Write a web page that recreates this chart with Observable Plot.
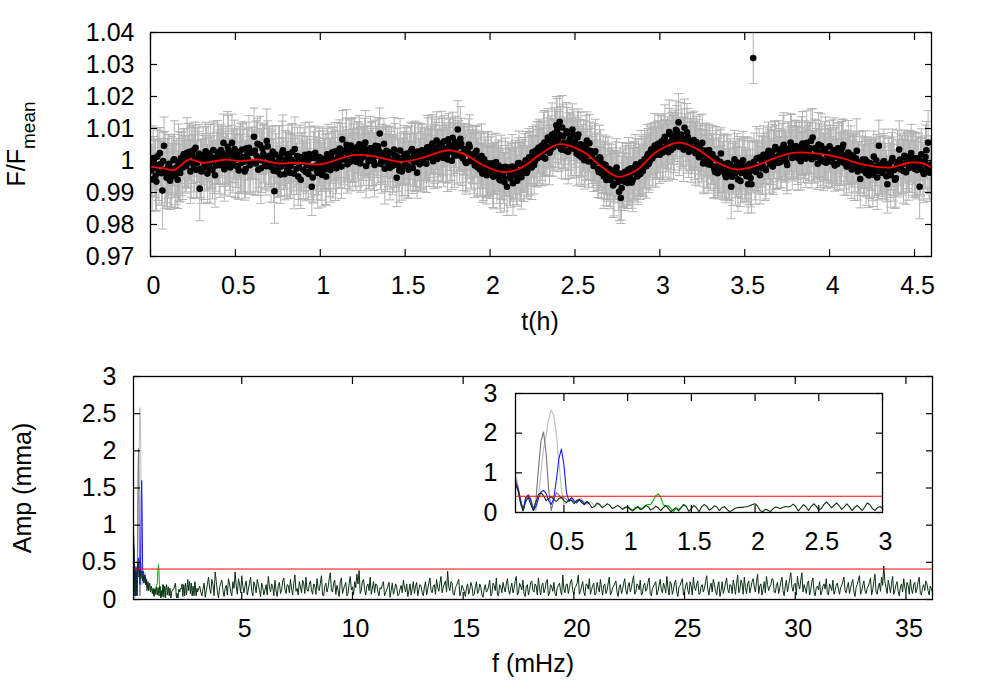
<!DOCTYPE html>
<html><head><meta charset="utf-8">
<script src="https://cdn.jsdelivr.net/npm/d3@7"></script>
<script src="https://cdn.jsdelivr.net/npm/@observablehq/plot@0.6"></script>
<style>
body{margin:0;background:#fff;}
#chart{position:relative;width:981px;height:687px;overflow:hidden;background:#fff;font-family:"Liberation Sans",Arial,Helvetica,sans-serif;}
#chart svg{position:absolute;overflow:visible;}
</style></head><body><div id="chart"></div>
<script>
// ---------- Light curve (top panel) ----------
const cadenceH = 0.01;           // hours between samples of each set
const offsetB = 0.005;           // second (interleaved) set starts half a step later
const fluxPpt = [
-2.0,-5.9,-0.5,-4.8,1.2,-3.6,-1.1,-9.4,4.6,-3.2,
-4.1,-1.0,-5.2,-2.6,0.4,-3.8,-6.0,-1.9,0.8,-2.2,
0.9,-1.8,1.5,2.7,-0.6,3.1,0.2,-2.9,1.1,-8.8,
-3.4,1.6,-1.2,0.5,2.3,-2.5,-0.3,3.3,-4.6,0.9,
1.8,-1.5,2.6,5.5,-0.8,0.4,3.0,-2.2,5.5,1.2,
-1.6,2.1,-3.1,0.7,3.4,-0.4,-2.7,1.9,4.0,-1.1,
2.4,7.4,-0.9,5.2,0.6,-2.4,3.7,1.3,-1.8,4.4,
1.5,-2.0,2.8,-9.6,-0.7,-3.5,0.9,-1.9,3.2,-4.3,
-1.2,2.0,-3.8,0.3,-0.5,3.6,-2.6,-5.0,1.1,-0.4,
-2.9,1.8,-1.4,-4.2,0.6,-8.2,-2.0,2.4,-3.3,-0.8,
-1.7,-4.5,0.2,-2.8,1.9,-0.6,-3.0,2.5,0.1,-1.5,
2.9,-0.8,1.6,6.6,0.4,3.3,-1.2,2.1,4.7,0.9,
3.5,-0.4,2.2,5.1,0.6,1.8,4.2,-1.7,2.9,0.3,
3.8,1.0,-1.4,2.7,4.4,8.4,-0.2,1.5,-2.6,3.0,
0.8,-2.3,2.4,-0.9,1.6,-5.4,-1.6,3.1,-3.4,0.5,
-1.0,2.2,-2.9,0.7,3.6,-0.5,1.3,-3.8,2.6,0.2,
3.2,-0.6,1.8,4.1,0.9,2.7,5.3,1.2,3.9,0.5,
4.6,1.4,3.2,6.0,2.1,0.3,4.9,2.8,7.1,1.6,
3.9,9.7,2.0,5.2,0.6,3.4,-0.8,2.5,4.3,-0.2,
1.7,-1.6,3.0,0.2,-2.8,1.4,-3.5,-0.7,-4.6,-1.1,
-3.9,-0.9,-5.1,-2.3,-4.4,-1.6,-6.2,-3.0,-5.5,-2.0,
-8.2,-3.2,-5.6,-1.9,-4.1,-2.7,-6.3,-0.8,-3.6,-1.5,
-2.8,0.1,-3.3,1.0,-0.8,2.6,-1.4,3.1,0.7,2.9,
4.4,1.1,5.6,3.0,7.2,2.4,5.9,4.1,8.5,11.0,
6.3,12.1,3.4,7.6,5.0,9.1,2.7,6.8,4.2,8.0,
5.9,2.1,8.1,3.8,0.9,4.6,2.4,6.2,-0.3,3.0,
1.8,-1.7,2.9,-0.4,-3.6,0.6,-2.3,-5.0,-1.4,-4.2,
-2.6,-6.1,-4.0,-7.3,-3.2,-5.3,-9.8,-11.7,-4.4,-6.6,
-3.7,-7.0,-5.1,-2.4,-6.0,-3.6,-1.2,-4.8,-2.9,-0.6,
-3.3,0.4,-1.8,2.0,-0.2,3.5,1.3,4.7,2.2,5.2,
1.8,5.9,3.1,7.4,4.5,2.6,8.3,6.1,4.0,7.7,
9.2,11.9,5.0,7.1,3.4,6.6,8.8,2.7,5.8,3.9,
6.4,2.3,4.9,1.0,3.6,5.5,-0.4,2.8,0.3,3.3,
-1.3,1.9,-2.6,0.6,-4.0,-0.9,2.2,-3.1,-1.7,-5.2,
-0.8,-4.5,-8.2,-2.1,0.4,-3.6,-5.9,-1.5,-3.9,0.1,
-2.7,-4.9,-7.4,-1.0,-7.4,32.0,-3.3,0.6,-2.2,-4.6,
-0.3,1.8,-2.5,0.9,3.0,-1.2,2.3,-0.6,4.2,0.1,
3.4,-0.5,2.6,4.9,1.2,-1.4,3.7,5.6,0.8,2.9,
4.5,1.5,3.9,-0.2,5.3,2.2,0.6,4.0,2.8,6.1,
7.2,0.9,3.5,-1.0,2.4,4.6,0.2,3.1,-0.7,2.0,
4.4,0.5,2.7,-1.6,1.9,3.8,-0.3,2.2,4.9,0.1,
-1.9,2.5,0.4,-2.8,1.2,-0.8,3.0,-2.2,-5.8,-0.4,
-3.1,0.3,-2.4,-4.7,-0.9,-3.6,1.2,-2.0,-5.3,4.6,
-1.4,-3.9,-0.2,-2.7,-7.4,-1.1,-4.6,0.8,-3.0,-5.6,
-0.5,3.4,-2.8,-1.2,1.5,-3.7,0.2,-2.0,2.3,-0.9,
-2.6,0.7,-1.6,-8.2,1.9,-3.4,-0.3,3.2,5.6,-3.8
];
const errPpt = [
9,10,8,11,9,10,8,12,9,10, 11,9,10,8,12,10,9,11,8,10, 9,8,10,9,11,8,10,9,8,10, 10,9,8,10,9,11,8,9,10,8,
9,10,8,9,10,8,11,9,9,8, 10,8,9,11,8,10,9,8,10,9, 8,9,10,8,9,11,8,10,9,8, 9,11,8,10,9,8,10,9,11,8,
10,9,8,11,9,10,8,9,10,9, 9,10,9,8,10,9,11,8,9,10, 8,10,9,11,8,9,10,8,9,11, 9,8,10,9,8,10,9,11,8,9,
10,9,8,9,10,8,9,10,8,9, 8,9,10,8,9,8,10,9,11,8, 9,10,8,9,10,9,8,10,9,8, 10,8,9,10,8,9,11,8,9,10,
8,9,8,10,9,8,9,10,8,9, 9,8,10,8,9,10,8,9,8,10, 8,9,9,8,10,8,9,8,10,9, 9,10,8,9,8,10,9,8,9,10,
8,9,10,8,9,8,10,9,8,9, 9,8,9,10,8,9,8,10,9,8, 10,9,8,9,10,8,9,8,9,10, 8,9,10,8,9,10,8,9,8,9,
9,8,9,10,8,9,10,8,9,8, 8,10,8,9,9,8,10,9,8,9, 9,8,10,9,8,9,8,10,9,8, 8,9,8,10,9,8,9,8,10,9,
9,8,9,8,10,9,8,9,8,10, 8,9,10,8,9,8,9,10,8,9, 9,8,9,10,8,9,8,9,10,8, 8,9,8,9,10,8,9,8,9,8,
9,10,8,9,8,9,10,8,9,8, 8,9,9,10,8,9,8,9,10,8, 9,8,10,8,9,8,10,9,8,9, 10,8,9,8,9,8,9,10,8,9,
8,9,10,8,9,8,9,10,8,9, 9,8,9,10,8,9,8,9,10,8, 8,9,8,9,10,8,9,8,9,10, 9,8,9,8,9,10,8,9,8,9,
8,9,10,8,9,8,9,10,8,9, 9,10,8,9,8,9,10,8,9,8, 8,9,9,10,8,9,8,9,10,8, 9,8,10,8,9,8,10,9,8,9,
10,9,8,9,8,10,9,8,9,10, 9,8,9,10,8,9,8,9,10,9
];
const fluxPptB = [
-3.1,0.8,-2.4,-6.6,-1.5,2.3,-4.0,-0.2,-2.9,-5.4,
-1.8,-6.3,-3.5,0.1,-4.7,-2.1,-0.6,-3.9,-1.0,1.9,
-1.2,2.4,-0.3,-3.4,1.8,-1.9,4.0,-0.8,2.2,-2.6,
0.4,-2.2,2.9,-4.1,-0.9,1.3,-3.0,0.7,-1.6,2.5,
-0.4,3.3,0.9,-2.7,1.7,4.3,-1.3,2.0,-0.1,3.6,
0.6,-2.0,2.7,-0.8,1.1,-3.4,3.8,0.2,-1.5,2.4,
-0.7,3.1,1.4,-2.9,4.8,0.0,2.0,-1.2,6.1,0.9,
-1.5,0.6,-3.2,1.9,-2.5,-0.2,-4.4,2.3,-1.1,0.4,
-3.0,0.9,-1.8,2.6,-4.1,-0.3,1.4,-2.2,-6.0,0.7,
0.2,-3.6,-0.5,2.0,-2.4,-5.3,0.8,-1.6,-3.9,1.1,
-3.4,0.5,-1.1,-5.0,1.3,-2.2,0.9,-0.7,2.8,-2.4,
1.0,3.7,-1.9,2.5,0.2,4.9,1.6,-0.5,3.1,2.4,
0.8,4.1,2.0,-0.9,3.4,1.2,5.6,2.6,-0.2,3.8,
2.2,-0.4,4.6,1.5,3.0,-1.1,2.3,5.2,0.3,-0.8,
2.6,0.1,-1.7,3.4,-0.3,1.1,-3.1,0.6,-2.0,1.9,
1.3,-1.7,0.4,3.0,-2.3,1.9,-0.4,2.8,-1.2,1.5,
0.1,2.4,-1.0,3.3,1.6,4.6,-0.2,2.9,6.2,1.8,
2.9,5.4,0.8,3.7,1.9,6.6,3.3,-0.1,4.2,5.8,
1.6,4.5,6.8,1.2,3.6,-0.5,2.2,5.0,0.4,1.9,
-0.4,2.6,-2.1,0.9,-1.2,-4.1,0.4,-2.6,-0.9,-3.4,
-1.6,-4.7,-2.6,-0.5,-3.8,-5.9,-2.1,-4.3,-6.8,-3.3,
-2.2,-5.0,-3.7,-7.1,-2.4,-4.8,-0.9,-3.3,-5.2,-2.0,
-0.6,-3.9,-1.7,0.8,-2.2,1.6,-0.1,2.2,4.0,1.2,
2.8,5.1,0.6,4.3,6.4,3.2,8.0,4.8,6.9,9.4,
4.5,7.9,10.3,5.6,3.1,8.6,6.0,4.4,9.7,3.6,
4.3,7.2,1.6,5.1,3.2,0.1,4.0,1.7,5.4,2.1,
-0.5,2.5,0.2,-2.6,1.0,-3.9,-1.0,-3.0,-6.1,-2.7,
-5.4,-3.1,-7.8,-4.9,-2.2,-6.7,-4.1,-8.6,-5.7,-3.5,
-5.8,-2.8,-4.3,-6.9,-3.1,-1.9,-5.0,-2.3,-4.2,-1.4,
-2.1,-0.6,1.2,-1.0,2.7,0.6,3.9,1.7,3.3,4.4,
4.2,2.4,6.6,3.8,5.6,8.9,3.3,6.9,5.2,9.6,
6.8,4.3,8.1,5.6,10.2,4.1,7.3,5.1,3.2,6.0,
3.0,5.8,2.0,4.3,1.5,-0.9,3.1,1.7,-1.2,2.2,
0.5,-1.8,-3.6,0.3,-2.0,-0.4,-3.4,-1.1,-4.4,-2.3,
-3.0,-1.2,-5.1,-2.7,-4.0,-0.6,-2.3,-6.4,-3.2,-1.8,
-4.0,-1.6,-3.8,-5.5,-2.1,-0.4,-3.6,-1.8,0.9,-2.5,
-1.6,0.4,-3.0,2.2,-0.4,1.5,-1.9,3.4,1.0,-0.8,
2.0,0.4,4.1,1.8,-0.4,3.1,2.5,4.4,1.6,3.6,
3.1,0.7,2.6,4.7,1.1,3.4,5.5,1.9,3.8,0.4,
1.3,3.9,2.0,5.0,0.6,2.7,-0.4,3.6,1.9,0.8,
2.0,-0.5,3.3,1.2,-1.1,2.6,0.6,3.9,-0.8,1.5,
0.9,-1.1,1.8,-0.3,-2.5,0.6,-3.4,-1.0,-2.1,0.3,
-1.9,-4.0,-0.6,-2.9,-1.4,-4.4,-2.6,0.1,-3.3,-1.6,
-3.2,-0.6,-2.3,-4.9,-1.7,-3.5,-0.3,-2.7,-6.0,-1.9,
-2.4,0.3,-1.3,-3.3,0.9,-0.6,-2.4,1.4,-1.0,0.6,
-1.2,-3.0,0.4,-2.1,-0.7,-4.2,1.1,-1.8,-3.0,-1.3
];
const errPptB = [
8,10,9,9,11,8,10,9,12,9, 10,9,11,8,10,9,12,9,10,8, 9,11,8,10,9,10,8,11,9,9, 8,10,9,9,8,10,9,11,8,10,
10,8,9,10,9,11,8,9,10,9, 9,10,8,9,11,9,8,10,9,8, 10,9,11,8,9,10,9,8,10,9, 8,9,10,9,8,11,9,10,8,9,
9,8,10,9,11,8,9,10,9,8, 10,9,8,10,9,8,10,9,11,9, 9,10,8,9,10,9,8,11,9,8, 8,9,10,8,9,11,8,9,10,9,
9,8,10,9,8,9,10,8,9,10, 10,9,8,9,10,8,9,8,10,9, 8,9,9,10,8,9,10,8,9,9, 9,10,8,9,8,10,9,9,8,10,
9,8,9,10,8,9,8,10,9,8, 8,10,9,8,9,8,10,9,9,8, 9,8,10,9,8,10,9,8,9,9, 10,8,9,8,10,9,8,9,10,8,
9,10,8,9,8,9,10,8,9,8, 8,9,9,10,8,9,8,9,10,8, 9,8,9,8,10,9,8,10,8,9, 9,10,8,9,9,8,10,8,9,10,
8,9,10,8,9,8,9,10,8,9, 9,8,9,10,8,9,10,8,9,8, 8,9,8,9,10,8,9,9,8,10, 9,8,10,8,9,9,8,10,9,8,
8,10,9,8,9,10,8,9,8,9, 9,8,10,9,8,9,8,10,9,8, 10,9,8,9,8,10,9,8,9,9, 8,9,10,8,9,8,9,8,10,9,
9,8,9,10,8,9,8,10,9,8, 8,10,8,9,9,10,8,9,8,10, 9,8,9,8,10,9,9,8,10,8, 8,9,10,9,8,9,10,8,9,8,
9,8,9,8,10,9,8,9,10,8, 8,9,10,8,9,9,8,10,8,9, 9,10,8,9,8,9,10,9,8,9, 8,9,8,10,9,8,9,10,8,9,
9,8,10,9,8,9,8,9,10,8, 8,9,9,8,10,8,9,10,8,9, 9,10,8,9,8,10,9,8,9,9, 8,9,10,8,9,8,9,10,9,8,
9,8,9,10,8,9,10,8,9,8, 10,9,8,9,8,9,10,8,9,9
];
const fitT   = [0,0.07,0.136,0.18,0.225,0.31,0.38,0.45,0.53,0.635,0.744,0.86,1.0,1.1,1.195,1.31,1.47,1.607,1.70,1.764,1.86,1.96,2.078,2.176,2.29,2.41,2.55,2.647,2.755,2.863,2.98,3.108,3.216,3.33,3.45,3.57,3.68,3.785,3.92,4.06,4.196,4.354,4.47,4.55,4.6];
const fitPpt = [-2.0,-2.4,-3.0,-1.5,0.3,-0.7,-0.2,0.3,-0.2,0.3,-0.9,-0.7,-1.2,0.3,1.7,1.4,-0.4,0.9,2.6,3.2,1.7,-1.5,-3.6,-2.5,1.7,5.1,2.7,-1.5,-5.1,-3.0,2.7,5.6,3.7,-0.4,-2.8,-1.5,0.8,2.4,2.2,0.9,-1.2,-2.2,-0.7,-0.9,-2.2];
const topYTicks = [0.97,0.98,0.99,1,1.01,1.02,1.03,1.04];
const topXTicks = [0,0.5,1,1.5,2,2.5,3,3.5,4,4.5];

// ---------- Amplitude spectra (bottom panel + inset) ----------
const fStep = 0.02, fStart = 0.12;   // low-frequency sampling (mHz)
const ampBlackLow = [0.72,0.55,0.25,0.05,0.28,0.38,0.2,0.05,0.25,0.45,0.5,0.42,0.3,0.35,0.4,0.33,0.28,0.35,0.38,0.3,
0.25,0.32,0.3,0.22,0.3,0.33,0.25,0.2,0.27,0.22,0.12,0.15,0.24,0.2,0.12,0.16,0.22,0.18,0.1,0.13,
0.18,0.14,0.08,0.12,0.15,0.08,0.04,0.1,0.14,0.07,0.1,0.17,0.15,0.06,0.1,0.16,0.12,0.05,0.12,0.18,
0.1,0.02,0.08,0.12,0.04,0.12,0.2,0.15,0.03,0.1,0.18,0.12,0.02,0.14,0.2,0.16,0.06,0.1,0.17,0.14,
0.05,0.12,0.15,0.08,0.02,0.05,0.1,0.12,0.13,0.13,0.14,0.15,0.17,0.2,0.22,0.16,0.05,0.02,0.08,0.06,
0.02,0.09,0.14,0.12,0.1,0.13,0.15,0.14,0.16,0.21,0.14,0.04,0.12,0.2,0.14,0.05,0.15,0.22,0.16,0.06,
0.1,0.2,0.27,0.2,0.12,0.18,0.24,0.17,0.08,0.14,0.22,0.15,0.05,0.12,0.18,0.12,0.05,0.13,0.24,0.2,
0.1,0.05,0.12,0.15,0.1];
const greenStart = 0.96;
const ampGreen = [0.09,0.13,0.14,0.1,0.06,0.12,0.15,0.1,0.12,0.18,0.2,0.2,0.3,0.42,0.47,0.38,0.2,0.15,0.17,0.1,0.03,0.1,0.08,0.13,0.2,0.15];
const ampBlue = [0.76,0.6,0.32,0.05,0.38,0.43,0.3,0.05,0.15,0.35,0.52,0.56,0.48,0.3,0.2,0.35,0.8,1.35,1.6,1.2,0.5,0.28,0.38,0.3,0.25,0.32,0.3,0.22,0.27,0.22];
const ampDarkGrey = [0.85,0.62,0.2,0.05,0.35,0.45,0.35,0.1,0.3,1.1,1.8,2.03,1.5,0.6,0.05,0.3,0.5,0.45,0.35,0.38,0.33,0.28,0.32,0.26,0.3,0.33,0.25,0.2,0.27,0.22];
const ampLightGrey = [0.93,0.7,0.3,0.02,0.3,0.42,0.32,0.1,0.05,0.4,1.0,1.6,1.95,2.35,2.58,2.45,2.0,1.3,0.6,0.2,0.25,0.3,0.35,0.3,0.22,0.32,0.36,0.25,0.2,0.28,0.25,0.15,0.2,0.22,0.14];
const hfStart = 3.1, hfStep = 0.1;   // high-frequency sampling (mHz); second set at +0.05
const ampHigh = [
0.18,0.05,0.22,0.12,0.30,0.08,0.20,0.37,0.10,0.16,
0.26,0.04,0.19,0.28,0.11,0.24,0.37,0.07,0.21,0.32,
0.09,0.25,0.14,0.30,0.05,0.18,0.27,0.12,0.22,0.06,
0.20,0.31,0.10,0.17,0.26,0.04,0.23,0.13,0.29,0.08,
0.19,0.27,0.06,0.33,0.15,0.24,0.09,0.21,0.30,0.11,
0.25,0.07,0.18,0.28,0.12,0.32,0.05,0.22,0.16,0.36,
0.10,0.26,0.19,0.04,0.29,0.14,0.23,0.08,0.31,0.17,
0.24,0.34,0.39,0.12,0.27,0.06,0.21,0.30,0.15,0.09,
0.20,0.05,0.14,0.24,0.09,0.18,0.03,0.22,0.12,0.17,
0.07,0.19,0.26,0.10,0.04,0.21,0.15,0.08,0.23,0.13,
0.18,0.05,0.24,0.14,0.29,0.09,0.20,0.27,0.11,0.31,
0.16,0.25,0.38,0.12,0.22,0.06,0.19,0.27,0.10,0.15,
0.04,0.21,0.13,0.18,0.07,0.24,0.11,0.16,0.03,0.20,
0.12,0.26,0.08,0.19,0.29,0.05,0.17,0.23,0.10,0.28,
0.07,0.22,0.15,0.31,0.09,0.18,0.26,0.04,0.20,0.13,
0.25,0.10,0.18,0.29,0.06,0.22,0.14,0.27,0.08,0.17,
0.23,0.05,0.19,0.12,0.33,0.09,0.21,0.15,0.27,0.07,
0.18,0.33,0.11,0.24,0.05,0.20,0.28,0.13,0.22,0.08,
0.16,0.27,0.06,0.21,0.12,0.30,0.09,0.18,0.25,0.04,
0.20,0.13,0.28,0.07,0.23,0.16,0.32,0.10,0.19,0.26,
0.08,0.22,0.14,0.29,0.05,0.18,0.24,0.11,0.27,0.09,
0.17,0.31,0.06,0.21,0.13,0.26,0.04,0.19,0.28,0.10,
0.23,0.07,0.18,0.30,0.12,0.25,0.08,0.20,0.15,0.32,
0.06,0.22,0.27,0.11,0.18,0.04,0.24,0.14,0.29,0.09,
0.19,0.26,0.07,0.33,0.13,0.21,0.30,0.08,0.25,0.16,
0.28,0.10,0.34,0.18,0.06,0.24,0.31,0.12,0.20,0.27,
0.09,0.23,0.15,0.30,0.05,0.26,0.19,0.36,0.11,0.22,
0.31,0.14,0.36,0.20,0.08,0.25,0.13,0.29,0.05,0.18,
0.24,0.10,0.21,0.28,0.06,0.17,0.26,0.12,0.22,0.07,
0.19,0.30,0.09,0.23,0.15,0.27,0.04,0.20,0.32,0.11,
0.25,0.08,0.18,0.29,0.13,0.34,0.07,0.22,0.30,0.45,
0.16,0.26,0.09,0.31,0.12,0.24,0.05,0.21,0.28,0.10,
0.19,0.27,0.08,0.23,0.14,0.30,0.06,0.20,0.25,0.12,
0.18,0.09];
const ampHighMid = [
0.10,0.14,0.03,0.21,0.15,0.27,0.05,0.24,0.02,0.22,
0.12,0.15,0.06,0.21,0.05,0.15,0.18,0.28,0.09,0.17,
0.19,0.06,0.22,0.11,0.24,0.09,0.20,0.04,0.16,0.13,
0.06,0.18,0.21,0.05,0.12,0.19,0.08,0.25,0.14,0.20,
0.09,0.14,0.22,0.11,0.06,0.17,0.26,0.08,0.13,0.20,
0.13,0.21,0.07,0.15,0.22,0.06,0.18,0.10,0.28,0.12,
0.22,0.07,0.12,0.24,0.08,0.19,0.05,0.21,0.13,0.06,
0.16,0.21,0.08,0.25,0.13,0.18,0.12,0.07,0.24,0.21,
0.10,0.16,0.20,0.05,0.13,0.23,0.12,0.07,0.21,0.05,
0.14,0.09,0.17,0.21,0.12,0.06,0.24,0.18,0.05,0.20,
0.09,0.17,0.06,0.22,0.12,0.18,0.07,0.16,0.22,0.09,
0.21,0.10,0.17,0.24,0.07,0.16,0.23,0.05,0.19,0.11,
0.16,0.07,0.23,0.05,0.17,0.08,0.21,0.06,0.14,0.10,
0.18,0.05,0.22,0.12,0.06,0.20,0.09,0.16,0.21,0.13,
0.16,0.09,0.25,0.06,0.22,0.13,0.08,0.17,0.06,0.23,
0.12,0.21,0.06,0.15,0.19,0.09,0.24,0.05,0.20,0.11,
0.08,0.16,0.22,0.06,0.14,0.20,0.08,0.24,0.12,0.16,
0.22,0.07,0.18,0.10,0.21,0.14,0.07,0.19,0.06,0.23,
0.10,0.15,0.19,0.08,0.22,0.06,0.16,0.22,0.10,0.17,
0.08,0.22,0.12,0.18,0.10,0.25,0.07,0.21,0.13,0.06,
0.19,0.11,0.23,0.08,0.15,0.21,0.06,0.19,0.13,0.22,
0.09,0.16,0.24,0.07,0.22,0.10,0.17,0.24,0.06,0.19,
0.12,0.24,0.06,0.16,0.21,0.07,0.18,0.10,0.24,0.14,
0.17,0.10,0.20,0.06,0.24,0.12,0.08,0.22,0.14,0.20,
0.08,0.18,0.22,0.09,0.26,0.07,0.16,0.21,0.09,0.24,
0.17,0.24,0.08,0.21,0.14,0.09,0.20,0.17,0.28,0.10,
0.19,0.08,0.24,0.12,0.18,0.10,0.28,0.17,0.20,0.06,
0.20,0.26,0.10,0.15,0.22,0.06,0.24,0.10,0.16,0.13,
0.06,0.18,0.14,0.09,0.21,0.12,0.07,0.19,0.14,0.16,
0.24,0.12,0.17,0.08,0.22,0.10,0.16,0.26,0.07,0.19,
0.12,0.15,0.23,0.06,0.24,0.10,0.17,0.11,0.19,0.24,
0.08,0.18,0.22,0.07,0.20,0.11,0.17,0.10,0.16,0.23,
0.07,0.14,0.20,0.09,0.24,0.08,0.16,0.12,0.21,0.06,
0.14];
const threshold = 0.41;
const botYTicks = [0,0.5,1,1.5,2,2.5,3];
const botXTicks = [5,10,15,20,25,30,35];
const insYTicks = [0,1,2,3];
const insXTicks = [0.5,1,1.5,2,2.5,3];

// ---------- Tables ----------
const mkLc = (flux, err, t0) => flux.map((d, i) => ({t: t0 + i * cadenceH, f: 1 + d / 1000, lo: 1 + (d - err[i]) / 1000, hi: 1 + (d + err[i]) / 1000}));
const lc = mkLc(fluxPpt, errPpt, 0).concat(mkLc(fluxPptB, errPptB, offsetB)).sort((a, b) => a.t - b.t);
const fit = fitT.map((t, i) => ({t, f: 1 + fitPpt[i] / 1000}));
const lowSeries = (arr, start) => arr.map((a, i) => ({f: +(start + i * fStep).toFixed(3), a}));
const highSeries = (arr, start) => arr.map((a, i) => ({f: +(start + i * hfStep).toFixed(3), a}));
const black = lowSeries(ampBlackLow, fStart)
  .concat(highSeries(ampHigh, hfStart), highSeries(ampHighMid, hfStart + hfStep / 2))
  .sort((a, b) => a.f - b.f);
const green = lowSeries(ampGreen, greenStart);
const blue = lowSeries(ampBlue, fStart);
const dgrey = lowSeries(ampDarkGrey, fStart);
const lgrey = lowSeries(ampLightGrey, fStart);

const FONT = '"Liberation Sans", Arial, Helvetica, sans-serif';
const FS = 25;
const capSymbol = {draw(ctx, size) { const r = Math.sqrt(size / Math.PI); ctx.moveTo(-r, 0); ctx.lineTo(r, 0); }};
const C = {black: "#0a2f14", green: "#00b400", blue: "#1c1cff", dgrey: "#777777", lgrey: "#bcbcbc"};
const fmt = d => String(d);

function axes(xTicks, yTicks, yPad) {
  return [
    Plot.axisX(xTicks, {anchor: "bottom", tickSize: -7, fill: "none", label: null, strokeWidth: 1.2}),
    Plot.axisX(xTicks, {anchor: "top", tickSize: -7, fill: "none", label: null, strokeWidth: 1.2}),
    Plot.axisX(xTicks, {anchor: "bottom", tickSize: 0, tickPadding: 20, dx: 3, tickFormat: fmt, label: null, fill: "black"}),
    Plot.axisY(yTicks, {anchor: "left", tickSize: -7, tickPadding: 7 + yPad, tickFormat: fmt, label: null, fill: "black", strokeWidth: 1.2}),
    Plot.axisY(yTicks, {anchor: "right", tickSize: -7, fill: "none", label: null, strokeWidth: 1.2})
  ];
}
const chart = document.getElementById("chart");
function place(svg, left, top) { svg.style.left = left + "px"; svg.style.top = top + "px"; chart.appendChild(svg); return svg; }

// ---------- Top panel ----------
const topSvg = Plot.plot({
  width: 981, height: 345, marginLeft: 150, marginRight: 50, marginTop: 32, marginBottom: 89,
  style: {fontFamily: FONT, fontSize: FS + "px", background: "transparent", color: "black"},
  x: {domain: [0, 4.6]}, y: {domain: [0.97, 1.04]},
  marks: [
    Plot.ruleX(lc, {x: "t", y1: "lo", y2: "hi", stroke: "#b3b3b3", strokeWidth: 1, clip: true}),
    Plot.dot(lc, {x: "t", y: "lo", symbol: capSymbol, r: 4.5, fill: "none", stroke: "#b3b3b3", strokeWidth: 1, clip: true}),
    Plot.dot(lc, {x: "t", y: "hi", symbol: capSymbol, r: 4.5, fill: "none", stroke: "#b3b3b3", strokeWidth: 1, clip: true}),
    Plot.dot(lc, {x: "t", y: "f", r: 3.3, fill: "black", stroke: "none", clip: true}),
    Plot.line(fit, {x: "t", y: "f", stroke: "#ff0000", strokeWidth: 1.8, curve: "catmull-rom"}),
    Plot.frame({stroke: "black", strokeWidth: 1.3}),
    ...axes(topXTicks, topYTicks, 16)
  ]
});
place(topSvg, 0, 0);
{
  const s = d3.select(topSvg);
  s.append("text").attr("x", 540).attr("y", 330).attr("text-anchor", "middle").attr("font-size", FS).attr("fill", "black").attr("font-family", FONT).text("t(h)");
  const t = s.append("text").attr("transform", "translate(25,144) rotate(-90)").attr("text-anchor", "middle").attr("font-size", FS).attr("fill", "black").attr("font-family", FONT);
  t.append("tspan").text("F/F");
  t.append("tspan").attr("dy", 10).attr("font-size", 19).text("mean");
}

// ---------- Bottom panel ----------
const specMarks = (w) => [
  Plot.line(lgrey, {x: "f", y: "a", stroke: C.lgrey, strokeWidth: w, clip: true}),
  Plot.line(dgrey, {x: "f", y: "a", stroke: C.dgrey, strokeWidth: w, clip: true}),
  Plot.line(blue, {x: "f", y: "a", stroke: C.blue, strokeWidth: w, clip: true}),
  Plot.line(green, {x: "f", y: "a", stroke: C.green, strokeWidth: w, clip: true}),
  Plot.line(black, {x: "f", y: "a", stroke: C.black, strokeWidth: w, clip: true}),
  Plot.ruleY([threshold], {stroke: "#ff0000", strokeWidth: 1})
];
const botSvg = Plot.plot({
  width: 981, height: 342, marginLeft: 133, marginRight: 49, marginTop: 31, marginBottom: 88,
  style: {fontFamily: FONT, fontSize: FS + "px", background: "transparent", color: "black"},
  x: {domain: [0.11, 36.2]}, y: {domain: [0, 3]},
  marks: [
    ...specMarks(1),
    Plot.frame({stroke: "black", strokeWidth: 1.3}),
    ...axes(botXTicks, botYTicks, 17)
  ]
});
place(botSvg, 0, 345);
{
  const s = d3.select(botSvg);
  s.append("text").attr("x", 533).attr("y", 327).attr("text-anchor", "middle").attr("font-size", FS).attr("fill", "black").attr("font-family", FONT).text("f (mHz)");
  s.append("text").attr("transform", "translate(31,143) rotate(-90)").attr("text-anchor", "middle").attr("font-size", FS).attr("fill", "black").attr("font-family", FONT).text("Amp (mma)");
}

// ---------- Inset ----------
const insSvg = Plot.plot({
  width: 460, height: 170, marginLeft: 75, marginRight: 18, marginTop: 13, marginBottom: 38,
  style: {fontFamily: FONT, fontSize: FS + "px", background: "transparent", color: "black"},
  x: {domain: [0.12, 3.0]}, y: {domain: [0, 3]},
  marks: [
    ...specMarks(1.1),
    Plot.frame({stroke: "black", strokeWidth: 1.3}),
    ...axes(insXTicks, insYTicks, 18)
  ]
});
place(insSvg, 440, 380);
</script></body></html>
